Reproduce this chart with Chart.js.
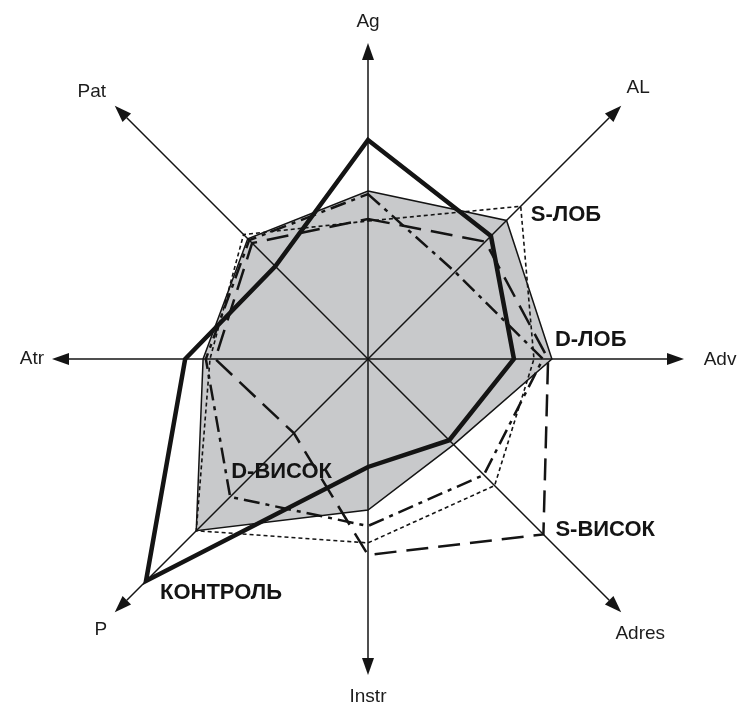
<!DOCTYPE html>
<html>
<head>
<meta charset="utf-8">
<script src="https://cdn.jsdelivr.net/npm/chart.js@4/dist/chart.umd.min.js"></script>
<style>
  html, body { margin: 0; padding: 0; background: #fff; }
  canvas { display: block; }
</style>
</head>
<body>
<canvas id="radar" width="743" height="707"></canvas>
<script>
// Axis names, clockwise from the top
const axes = ['Ag', 'AL', 'Adv', 'Adres', 'Instr', 'P', 'Atr', 'Pat'];

// Group profiles (same axis order)
const kontrol = [6.35, 5.04, 4.23, 3.33, 3.13, 9.10, 5.30, 3.80];
const sLob    = [4.00, 6.26, 4.81, 5.19, 5.33, 7.04, 4.58, 5.10];
const sVisok  = [4.06, 4.81, 5.22, 7.19, 5.68, 3.04, 4.43, 4.75];
const dVisok  = [4.78, 3.57, 5.07, 4.75, 4.84, 5.65, 4.70, 4.87];
const dLob    = [4.87, 5.68, 5.33, 3.51, 4.38, 7.04, 4.78, 4.93];

// Group names
const groupNames = ['КОНТРОЛЬ', 'S-ЛОБ', 'S-ВИСОК', 'D-ВИСОК', 'D-ЛОБ'];

const INK = '#141414';
const AXIS_FONT = '19px "Liberation Sans", Arial, sans-serif';
const NAME_FONT = 'bold 22px "Liberation Sans", Arial, sans-serif';

// Axis arrows (drawn right above the shaded polygon), axis names and group names
const radarDecor = {
  id: 'radarDecor',
  afterDatasetDraw(chart, args) {
    if (chart.data.datasets[args.index].label !== 'D-ЛОБ') return;
    const s = chart.scales.r;
    const ctx = chart.ctx;
    ctx.save();
    ctx.strokeStyle = INK;
    ctx.fillStyle = INK;
    ctx.lineWidth = 1.5;
    axes.forEach((name, i) => {
      const len = i % 2 === 0 ? 9.16 : 10.38;
      const tip = s.getPointPositionForValue(i, len);
      const ang = Math.atan2(tip.y - s.yCenter, tip.x - s.xCenter);
      const head = 17, half = 6;
      const bx = tip.x - head * Math.cos(ang);
      const by = tip.y - head * Math.sin(ang);
      ctx.beginPath();
      ctx.moveTo(s.xCenter, s.yCenter);
      ctx.lineTo(bx, by);
      ctx.stroke();
      ctx.beginPath();
      ctx.moveTo(tip.x, tip.y);
      ctx.lineTo(bx + half * Math.sin(ang), by - half * Math.cos(ang));
      ctx.lineTo(bx - half * Math.sin(ang), by + half * Math.cos(ang));
      ctx.closePath();
      ctx.fill();
    });
    ctx.restore();
  },
  afterDraw(chart) {
    const s = chart.scales.r;
    const ctx = chart.ctx;
    ctx.save();
    // axis names beyond the arrow tips
    const offs = [[0, -21], [17, -18], [36, 1], [19, 22], [0, 22], [-14, 18], [-20, 0], [-23, -14]];
    ctx.font = AXIS_FONT;
    ctx.fillStyle = '#1c1c1c';
    ctx.textAlign = 'center';
    ctx.textBaseline = 'middle';
    axes.forEach((name, i) => {
      const len = i % 2 === 0 ? 9.16 : 10.38;
      const tip = s.getPointPositionForValue(i, len);
      ctx.fillText(name, tip.x + offs[i][0], tip.y + offs[i][1]);
    });
    // group names next to a vertex of their own outline
    const tags = [
      { ds: 0, axis: 5, dx: 14, dy: 12 },
      { ds: 1, axis: 1, dx: 10, dy: 9 },
      { ds: 2, axis: 3, dx: 12, dy: -4 },
      { ds: 3, axis: 5, dx: 1, dy: -25 },
      { ds: 4, axis: 2, dx: 3, dy: -19 }
    ];
    ctx.font = NAME_FONT;
    ctx.fillStyle = INK;
    ctx.textAlign = 'left';
    tags.forEach(t => {
      const ds = chart.data.datasets[t.ds];
      const p = s.getPointPositionForValue(t.axis, ds.data[t.axis]);
      ctx.fillText(ds.label, p.x + t.dx, p.y + t.dy);
    });
    ctx.restore();
  }
};

new Chart(document.getElementById('radar'), {
  type: 'radar',
  data: {
    labels: axes,
    datasets: [
      { label: groupNames[0], data: kontrol, borderColor: INK, borderWidth: 4.5, fill: false },
      { label: groupNames[1], data: sLob, borderColor: INK, borderWidth: 1.6, borderDash: [4, 3], fill: false },
      { label: groupNames[2], data: sVisok, borderColor: INK, borderWidth: 2.5, borderDash: [22, 10], fill: false },
      { label: groupNames[3], data: dVisok, borderColor: INK, borderWidth: 2.5, borderDash: [16, 6, 4, 6], fill: false },
      { label: groupNames[4], data: dLob, borderColor: INK, borderWidth: 1.5, backgroundColor: '#c8c9cb', fill: true }
    ]
  },
  options: {
    responsive: false,
    animation: false,
    layout: { padding: { left: 23, top: 14, right: 30, bottom: 3 } },
    elements: {
      line: { tension: 0, borderJoinStyle: 'miter' },
      point: { radius: 0, hoverRadius: 0 }
    },
    plugins: { legend: { display: false }, tooltip: { enabled: false } },
    scales: {
      r: {
        min: 0,
        max: 10,
        startAngle: 0,
        ticks: { display: false },
        grid: { display: false },
        angleLines: { display: false },
        pointLabels: { display: false }
      }
    }
  },
  plugins: [radarDecor]
});
</script>
</body>
</html>
